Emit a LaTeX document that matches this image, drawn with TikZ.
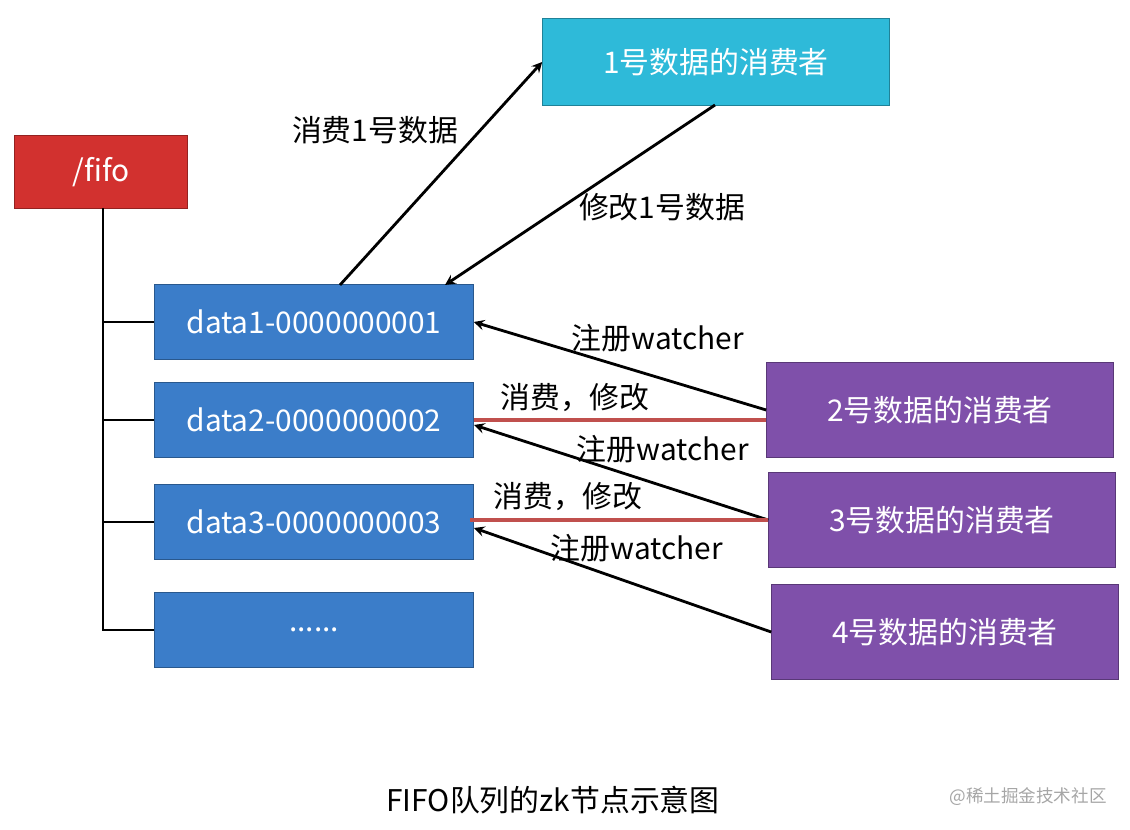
\documentclass[tikz,border=0pt]{standalone}
\usepackage{fontspec}
\setmainfont{Noto Sans CJK SC}
\usepackage{xcolor}
\usetikzlibrary{positioning}
\definecolor{fifored}{HTML}{D2312F}
\definecolor{datablue}{HTML}{3B7DC9}
\definecolor{consumcyan}{HTML}{2EBAD9}
\definecolor{consumpurple}{HTML}{7F50AA}
\definecolor{linkred}{HTML}{C0504D}
\tikzset{
  box/.style={draw=#1!70!black, fill=#1, text=white, font=\fontsize{17}{20}\selectfont, inner sep=0pt},
  databox/.style={box=datablue, minimum width=6.38cm, minimum height=1.5cm},
  userbox/.style={box=consumpurple, minimum width=6.94cm, minimum height=1.9cm},
  lbl/.style={font=\fontsize{17}{20}\selectfont},
  arr/.style={->, >=stealth, line width=1.6pt},
}
\begin{document}
\begin{tikzpicture}[x=0.02cm, y=-0.02cm]
    \useasboundingbox (0,0) rectangle (1130,830);
    \node[box=fifored, minimum width=3.46cm, minimum height=1.46cm] (fifo) at (101,172) {/fifo};
    \node[box=consumcyan, minimum width=6.94cm, minimum height=1.74cm] (c1) at (716,62) {1号数据的消费者};

    \node[databox] (d1) at (314,322) {data1-0000000001};
    \node[databox] (d2) at (314,420) {data2-0000000002};
    \node[databox] (d3) at (314,522) {data3-0000000003};
    \node[databox] (d4) at (314,630) {......};

    \node[userbox] (c2) at (940,410) {2号数据的消费者};
    \node[userbox] (c3) at (942,520) {3号数据的消费者};
    \node[userbox] (c4) at (945,632) {4号数据的消费者};

    % tree
    \coordinate (t0) at (103,208);
    \coordinate (t4) at (103,630);
    \draw[line width=1.6pt] (t0) -- (t4) -- (d4.west);
    \draw[line width=1.6pt] (103,322) -- (d1.west);
    \draw[line width=1.6pt] (103,420) -- (d2.west);
    \draw[line width=1.6pt] (103,522) -- (d3.west);

    % first consumer
    \draw[arr] (340,285) -- (c1.west);
    \node[lbl] at (375,130) {消费1号数据};
    \draw[arr] (715,105) -- (445,285);
    \node[lbl] at (662,207) {修改1号数据};

    % other consumers
    \draw[arr] (c2.west) -- (d1.east);
    \node[lbl] at (658,338) {注册watcher};
    \draw[linkred, line width=2pt] (d2.east) -- (c2.west |- d2.east);
    \node[lbl] at (575,398) {消费，修改};
    \draw[arr] (c3.west) -- (474,425);
    \node[lbl] at (663,449) {注册watcher};
    \draw[linkred, line width=2pt] (470,520) -- (c3.west);
    \node[lbl] at (568,497) {消费，修改};
    \draw[arr] (c4.west) -- (474,528);
    \node[lbl] at (637,548) {注册watcher};

    \node[lbl] (cap) at (553,800) {FIFO队列的zk节点示意图};
    \node[text=gray!70, font=\fontsize{10}{12}\selectfont] (wm) at (1028,797) {@稀土掘金技术社区};
\end{tikzpicture}
\end{document}
